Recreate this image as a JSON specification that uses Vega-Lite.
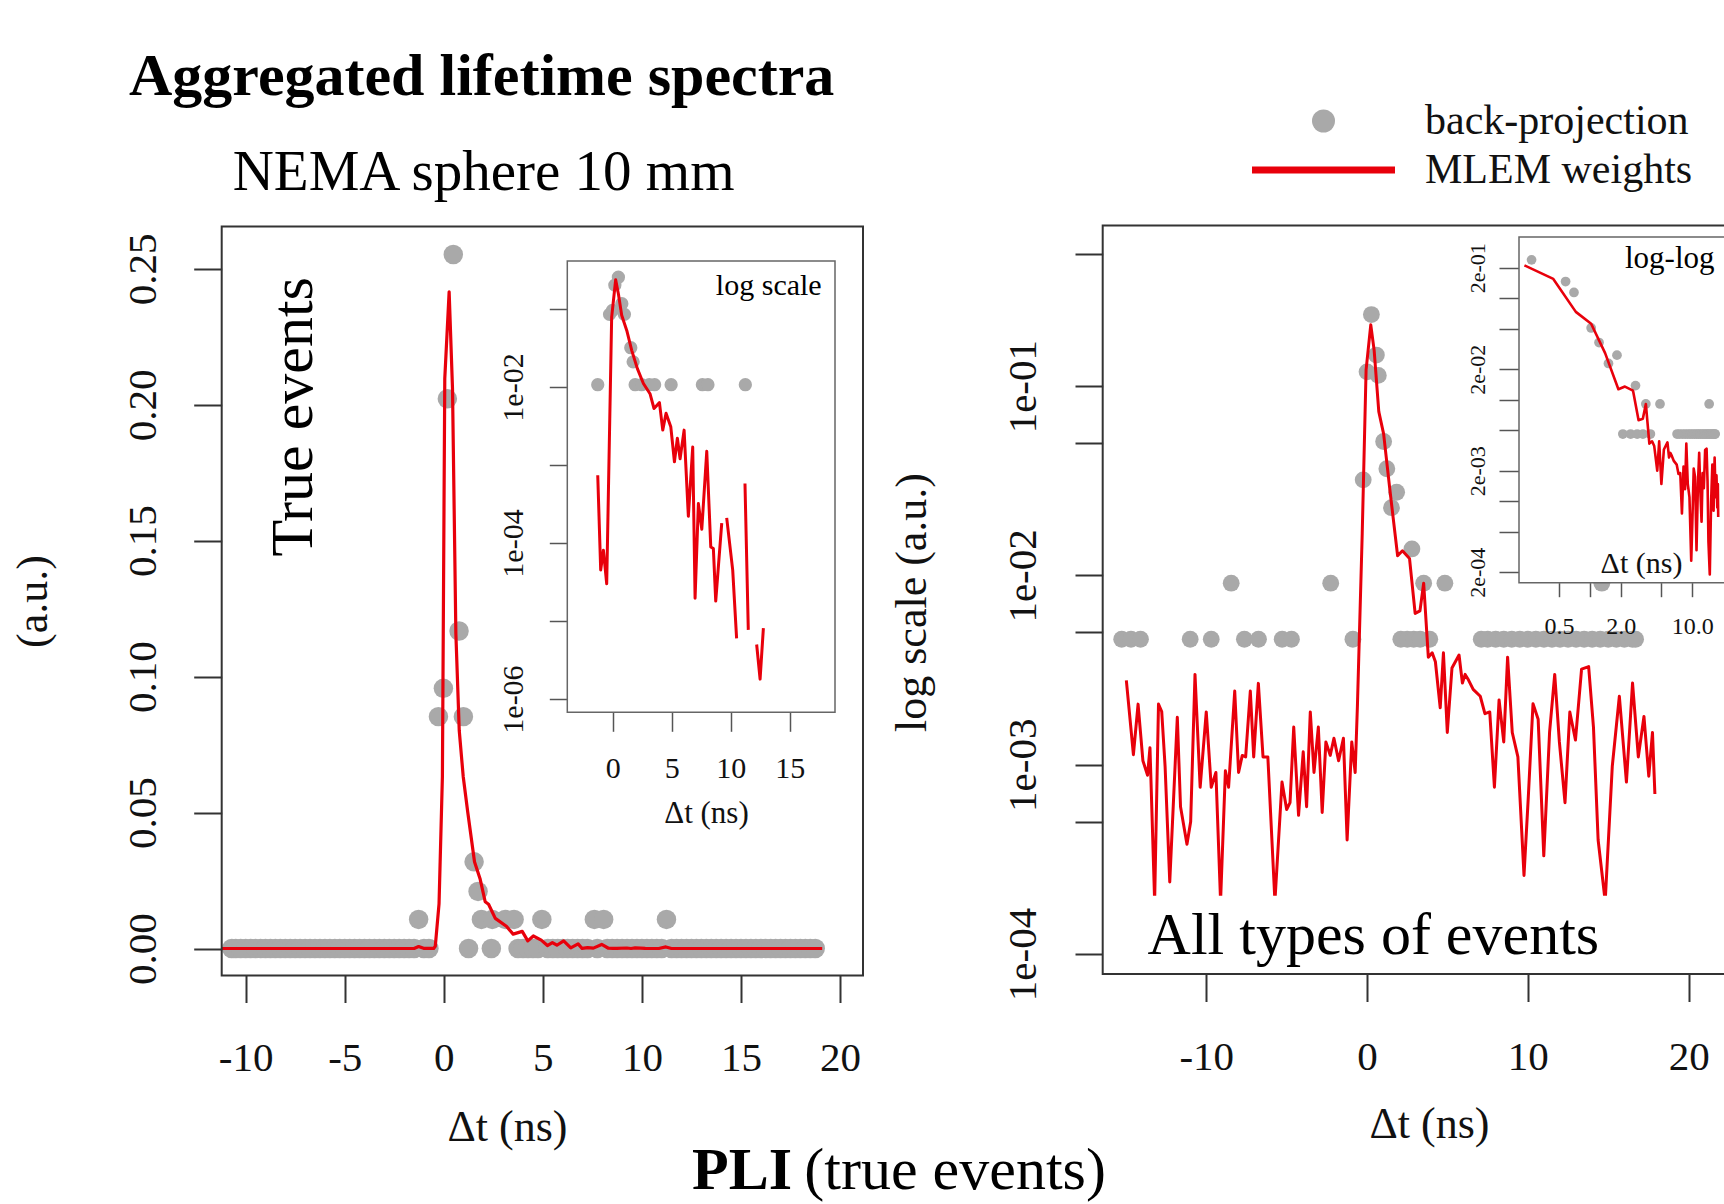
{
  "$schema": "https://vega.github.io/schema/vega-lite/v6.json",
  "width": 1724,
  "height": 1204,
  "autosize": "none",
  "padding": 0,
  "background": "white",
  "title": {"text": "Aggregated lifetime spectra", "anchor": "start", "frame": "group", "orient": "top", "offset": -155, "dx": 129, "baseline": "alphabetic", "font": "Liberation Serif", "fontSize": 60, "fontWeight": "bold", "color": "#000"},
  "config": {
    "view": {"stroke": null},
    "font": "Liberation Serif",
    "axis": {"domain": false, "grid": false, "labelFont": "Liberation Serif", "titleFont": "Liberation Serif", "labelColor": "#111", "titleColor": "#111", "titleFontWeight": "normal", "tickColor": "#333", "tickWidth": 2, "labelFlush": false, "labelOverlap": false, "labelBound": false}
  },
  "datasets": {
    "ptsL": [
      {"t": -1.27, "w": 0.0107}, {"t": -0.27, "w": 0.0853}, {"t": -0.02, "w": 0.0957}, {"t": 0.18, "w": 0.2022}, {"t": 0.48, "w": 0.2553}, {"t": 0.77, "w": 0.1168}, {"t": 0.99, "w": 0.0853}, {"t": 1.53, "w": 0.0319}, {"t": 1.73, "w": 0.021},
      {"t": 1.9, "w": 0.0107}, {"t": 2.45, "w": 0.0107}, {"t": 3.1, "w": 0.0107}, {"t": 3.55, "w": 0.0107}, {"t": 4.95, "w": 0.0107}, {"t": 7.6, "w": 0.0107}, {"t": 8.07, "w": 0.0107}, {"t": 11.24, "w": 0.0107},
      {"t": -10.7, "w": 0}, {"t": -10.5, "w": 0}, {"t": -10.25, "w": 0}, {"t": -10, "w": 0}, {"t": -9.75, "w": 0}, {"t": -9.5, "w": 0}, {"t": -9.25, "w": 0}, {"t": -9, "w": 0}, {"t": -8.75, "w": 0}, {"t": -8.5, "w": 0}, {"t": -8.25, "w": 0}, {"t": -8, "w": 0}, {"t": -7.75, "w": 0}, {"t": -7.5, "w": 0}, {"t": -7.25, "w": 0}, {"t": -7, "w": 0}, {"t": -6.75, "w": 0}, {"t": -6.5, "w": 0}, {"t": -6.25, "w": 0}, {"t": -6, "w": 0}, {"t": -5.75, "w": 0}, {"t": -5.5, "w": 0}, {"t": -5.25, "w": 0}, {"t": -5, "w": 0}, {"t": -4.75, "w": 0}, {"t": -4.5, "w": 0}, {"t": -4.25, "w": 0}, {"t": -4, "w": 0}, {"t": -3.75, "w": 0}, {"t": -3.5, "w": 0}, {"t": -3.25, "w": 0}, {"t": -3, "w": 0}, {"t": -2.75, "w": 0}, {"t": -2.5, "w": 0}, {"t": -2.25, "w": 0}, {"t": -2, "w": 0}, {"t": -1.75, "w": 0}, {"t": -1.5, "w": 0}, {"t": -1, "w": 0}, {"t": -0.75, "w": 0},
      {"t": 1.25, "w": 0}, {"t": 2.4, "w": 0},
      {"t": 3.75, "w": 0}, {"t": 4, "w": 0}, {"t": 4.25, "w": 0}, {"t": 4.5, "w": 0}, {"t": 4.75, "w": 0}, {"t": 5.25, "w": 0}, {"t": 5.5, "w": 0}, {"t": 5.75, "w": 0}, {"t": 6, "w": 0}, {"t": 6.25, "w": 0}, {"t": 6.5, "w": 0}, {"t": 6.75, "w": 0}, {"t": 7, "w": 0}, {"t": 7.25, "w": 0}, {"t": 7.75, "w": 0}, {"t": 8.25, "w": 0}, {"t": 8.5, "w": 0}, {"t": 8.75, "w": 0}, {"t": 9, "w": 0}, {"t": 9.25, "w": 0}, {"t": 9.5, "w": 0}, {"t": 9.75, "w": 0}, {"t": 10, "w": 0}, {"t": 10.25, "w": 0}, {"t": 10.5, "w": 0}, {"t": 10.75, "w": 0}, {"t": 11, "w": 0}, {"t": 11.5, "w": 0}, {"t": 11.75, "w": 0}, {"t": 12, "w": 0}, {"t": 12.25, "w": 0}, {"t": 12.5, "w": 0}, {"t": 12.75, "w": 0}, {"t": 13, "w": 0}, {"t": 13.25, "w": 0}, {"t": 13.5, "w": 0}, {"t": 13.75, "w": 0}, {"t": 14, "w": 0}, {"t": 14.25, "w": 0}, {"t": 14.5, "w": 0}, {"t": 14.75, "w": 0}, {"t": 15, "w": 0}, {"t": 15.25, "w": 0}, {"t": 15.5, "w": 0}, {"t": 15.75, "w": 0}, {"t": 16, "w": 0}, {"t": 16.25, "w": 0}, {"t": 16.5, "w": 0}, {"t": 16.75, "w": 0}, {"t": 17, "w": 0}, {"t": 17.25, "w": 0}, {"t": 17.5, "w": 0}, {"t": 17.75, "w": 0}, {"t": 18, "w": 0}, {"t": 18.25, "w": 0}, {"t": 18.5, "w": 0}, {"t": 18.75, "w": 0}
    ],
    "lineL": [
      {"t": -11.21, "w": 0}, {"t": -1.5, "w": 0}, {"t": -1.27, "w": 0.00074}, {"t": -1.02, "w": 0.00005}, {"t": -0.79, "w": 0.00008}, {"t": -0.51, "w": 0.00003}, {"t": -0.43, "w": 0.0008}, {"t": -0.24, "w": 0.0164}, {"t": -0.07, "w": 0.0633}, {"t": 0.05, "w": 0.2097}, {"t": 0.27, "w": 0.2416}, {"t": 0.44, "w": 0.206}, {"t": 0.61, "w": 0.1158}, {"t": 0.78, "w": 0.0802}, {"t": 0.98, "w": 0.0633}, {"t": 1.21, "w": 0.0501}, {"t": 1.55, "w": 0.0319}, {"t": 1.83, "w": 0.0257}, {"t": 2.09, "w": 0.0172}, {"t": 2.26, "w": 0.0163}, {"t": 2.6, "w": 0.0111}, {"t": 3.16, "w": 0.0082}, {"t": 3.5, "w": 0.0053}, {"t": 3.96, "w": 0.0063}, {"t": 4.24, "w": 0.0028}, {"t": 4.52, "w": 0.0046}, {"t": 4.92, "w": 0.0031}, {"t": 5.23, "w": 0.0011}, {"t": 5.48, "w": 0.0022}, {"t": 5.71, "w": 0.0012}, {"t": 6.05, "w": 0.0028}, {"t": 6.41, "w": 0.00022}, {"t": 6.78, "w": 0.0017}, {"t": 6.98, "w": 0.00002}, {"t": 7.26, "w": 0.00032}, {"t": 7.55, "w": 0.00015}, {"t": 7.97, "w": 0.0015}, {"t": 8.31, "w": 0.00009}, {"t": 8.53, "w": 0.000085}, {"t": 8.73, "w": 0.000018}, {"t": 9.24, "w": 0.00018}, {"t": 9.45, "w": 0}, {"t": 9.66, "w": 0.00021}, {"t": 10.17, "w": 0.000045}, {"t": 10.5, "w": 0.000006}, {"t": 10.85, "w": 0}, {"t": 11.21, "w": 0.00058}, {"t": 11.49, "w": 0.0000077}, {"t": 11.85, "w": 0}, {"t": 12.2, "w": 0.000005}, {"t": 12.49, "w": 0.0000018}, {"t": 12.77, "w": 0.0000081}, {"t": 13.1, "w": 0}, {"t": 19.1, "w": 0}
    ],
    "lineLlog": [
      {"t": -1.27, "w": 0.00074}, {"t": -1.02, "w": 0.000045}, {"t": -0.79, "w": 0.000081}, {"t": -0.51, "w": 0.00003}, {"t": -0.09, "w": 0.0787}, {"t": 0.25, "w": 0.237}, {"t": 0.48, "w": 0.157}, {"t": 0.76, "w": 0.083}, {"t": 1.19, "w": 0.053}, {"t": 1.61, "w": 0.0295}, {"t": 2.09, "w": 0.0172}, {"t": 2.6, "w": 0.0111}, {"t": 3.16, "w": 0.0082}, {"t": 3.5, "w": 0.0053}, {"t": 3.96, "w": 0.0063}, {"t": 4.24, "w": 0.0028}, {"t": 4.52, "w": 0.0046}, {"t": 4.92, "w": 0.0031}, {"t": 5.23, "w": 0.0011}, {"t": 5.48, "w": 0.0022}, {"t": 5.71, "w": 0.0012}, {"t": 6.05, "w": 0.0028}, {"t": 6.41, "w": 0.00022}, {"t": 6.78, "w": 0.0017}, {"t": 6.98, "w": 0.0000196}, {"t": 7.26, "w": 0.00032}, {"t": 7.55, "w": 0.00015}, {"t": 7.97, "w": 0.0015}, {"t": 8.31, "w": 0.000089}, {"t": 8.53, "w": 0.000085}, {"t": 8.73, "w": 0.000018}, {"t": 9.24, "w": 0.00018}, {"t": 9.45, "w": null}, {"t": 9.66, "w": 0.00021}, {"t": 10.17, "w": 0.000045}, {"t": 10.5, "w": 0.000006}, {"t": 10.85, "w": null}, {"t": 11.21, "w": 0.00058}, {"t": 11.49, "w": 0.0000077}, {"t": 11.85, "w": null}, {"t": 12.2, "w": 0.000005}, {"t": 12.49, "w": 0.0000018}, {"t": 12.77, "w": 0.0000081}
    ],
    "ptsR": [
      {"t": 0.27, "w": 0.239}, {"t": 0.0, "w": 0.119}, {"t": 0.58, "w": 0.146}, {"t": 0.7, "w": 0.114}, {"t": 1.03, "w": 0.051}, {"t": 1.23, "w": 0.0366}, {"t": -0.24, "w": 0.032}, {"t": 1.84, "w": 0.0275}, {"t": 1.52, "w": 0.0228}, {"t": 2.79, "w": 0.0138},
      {"t": -8.45, "w": 0.0091}, {"t": -2.26, "w": 0.0091}, {"t": 3.52, "w": 0.0091}, {"t": 4.84, "w": 0.0091}, {"t": 14.6, "w": 0.0091},
      {"t": -15.26, "w": 0.0046}, {"t": -14.68, "w": 0.0046}, {"t": -14.09, "w": 0.0046}, {"t": -11.0, "w": 0.0046}, {"t": -9.69, "w": 0.0046}, {"t": -7.63, "w": 0.0046}, {"t": -6.75, "w": 0.0046}, {"t": -5.28, "w": 0.0046}, {"t": -4.7, "w": 0.0046}, {"t": -0.88, "w": 0.0046}, {"t": 2.1, "w": 0.0046}, {"t": 2.5, "w": 0.0046}, {"t": 2.9, "w": 0.0046}, {"t": 3.3, "w": 0.0046}, {"t": 3.9, "w": 0.0046},
      {"t": 7.1, "w": 0.0046}, {"t": 7.5, "w": 0.0046}, {"t": 8, "w": 0.0046}, {"t": 8.5, "w": 0.0046}, {"t": 9, "w": 0.0046}, {"t": 9.5, "w": 0.0046}, {"t": 10, "w": 0.0046}, {"t": 10.5, "w": 0.0046}, {"t": 11, "w": 0.0046}, {"t": 11.5, "w": 0.0046}, {"t": 12, "w": 0.0046}, {"t": 12.5, "w": 0.0046}, {"t": 13, "w": 0.0046}, {"t": 13.5, "w": 0.0046}, {"t": 14, "w": 0.0046}, {"t": 14.5, "w": 0.0046}, {"t": 15, "w": 0.0046}, {"t": 15.5, "w": 0.0046}, {"t": 16, "w": 0.0046}, {"t": 16.5, "w": 0.0046}, {"t": 16.7, "w": 0.0046}
    ],
    "lineR": [
      {"t": -14.97, "w": 0.00279}, {"t": -14.53, "w": 0.00113}, {"t": -14.24, "w": 0.00209}, {"t": -13.94, "w": 0.00105}, {"t": -13.65, "w": 0.00088}, {"t": -13.5, "w": 0.00123}, {"t": -13.21, "w": 0.00019}, {"t": -12.97, "w": 0.00209}, {"t": -12.77, "w": 0.00191}, {"t": -12.56, "w": 0.00098}, {"t": -12.27, "w": 0.00024}, {"t": -11.8, "w": 0.00178}, {"t": -11.6, "w": 0.0006}, {"t": -11.2, "w": 0.00038}, {"t": -10.97, "w": 0.0005}, {"t": -10.7, "w": 0.003}, {"t": -10.38, "w": 0.00076}, {"t": -10.0, "w": 0.0019}, {"t": -9.69, "w": 0.00076}, {"t": -9.4, "w": 0.00091}, {"t": -9.11, "w": 0.00019}, {"t": -8.81, "w": 0.00093}, {"t": -8.61, "w": 0.00076}, {"t": -8.23, "w": 0.00245}, {"t": -7.99, "w": 0.00091}, {"t": -7.76, "w": 0.00112}, {"t": -7.55, "w": 0.0011}, {"t": -7.26, "w": 0.00245}, {"t": -7.05, "w": 0.0011}, {"t": -6.76, "w": 0.00269}, {"t": -6.47, "w": 0.0011}, {"t": -6.17, "w": 0.0011}, {"t": -5.73, "w": 0.00019}, {"t": -5.29, "w": 0.00081}, {"t": -5.0, "w": 0.00058}, {"t": -4.79, "w": 0.00063}, {"t": -4.56, "w": 0.00158}, {"t": -4.26, "w": 0.00054}, {"t": -3.97, "w": 0.00117}, {"t": -3.76, "w": 0.0006}, {"t": -3.53, "w": 0.0019}, {"t": -3.3, "w": 0.00091}, {"t": -3.03, "w": 0.00158}, {"t": -2.79, "w": 0.00056}, {"t": -2.56, "w": 0.00132}, {"t": -2.29, "w": 0.00112}, {"t": -2.06, "w": 0.00138}, {"t": -1.77, "w": 0.00105}, {"t": -1.47, "w": 0.00138}, {"t": -1.24, "w": 0.0004}, {"t": -0.95, "w": 0.00132}, {"t": -0.74, "w": 0.00091}, {"t": -0.6, "w": 0.00204}, {"t": -0.3, "w": 0.0167}, {"t": -0.06, "w": 0.122}, {"t": 0.23, "w": 0.211}, {"t": 0.44, "w": 0.155}, {"t": 0.73, "w": 0.0734}, {"t": 1.03, "w": 0.056}, {"t": 1.41, "w": 0.0288}, {"t": 1.9, "w": 0.0127}, {"t": 2.2, "w": 0.0135}, {"t": 2.64, "w": 0.0123}, {"t": 2.99, "w": 0.0063}, {"t": 3.29, "w": 0.0065}, {"t": 3.52, "w": 0.0091}, {"t": 3.81, "w": 0.0037}, {"t": 4.05, "w": 0.0039}, {"t": 4.25, "w": 0.0035}, {"t": 4.55, "w": 0.002}, {"t": 4.75, "w": 0.0039}, {"t": 4.99, "w": 0.00148}, {"t": 5.28, "w": 0.00324}, {"t": 5.72, "w": 0.0038}, {"t": 5.93, "w": 0.0027}, {"t": 6.1, "w": 0.003}, {"t": 6.31, "w": 0.0028}, {"t": 6.6, "w": 0.0025}, {"t": 7.04, "w": 0.0023}, {"t": 7.33, "w": 0.00186}, {"t": 7.63, "w": 0.0019}, {"t": 7.92, "w": 0.00076}, {"t": 8.21, "w": 0.0022}, {"t": 8.5, "w": 0.00132}, {"t": 8.74, "w": 0.0037}, {"t": 9.03, "w": 0.00148}, {"t": 9.38, "w": 0.0011}, {"t": 9.76, "w": 0.00026}, {"t": 10.03, "w": 0.00068}, {"t": 10.32, "w": 0.0021}, {"t": 10.64, "w": 0.00174}, {"t": 10.99, "w": 0.00033}, {"t": 11.35, "w": 0.00148}, {"t": 11.67, "w": 0.003}, {"t": 11.96, "w": 0.00132}, {"t": 12.31, "w": 0.00063}, {"t": 12.61, "w": 0.0019}, {"t": 12.96, "w": 0.00135}, {"t": 13.34, "w": 0.0032}, {"t": 13.78, "w": 0.0033}, {"t": 14.08, "w": 0.00158}, {"t": 14.37, "w": 0.0004}, {"t": 14.81, "w": 0.00019}, {"t": 15.25, "w": 0.00098}, {"t": 15.69, "w": 0.0023}, {"t": 16.13, "w": 0.00081}, {"t": 16.51, "w": 0.0027}, {"t": 16.87, "w": 0.0011}, {"t": 17.22, "w": 0.0018}, {"t": 17.52, "w": 0.00087}, {"t": 17.75, "w": 0.00148}, {"t": 17.9, "w": 0.0007}
    ]
  },
  "resolve": {"scale": {"x": "independent", "y": "independent"}, "axis": {"x": "independent", "y": "independent"}},
  "layer": [
    {
      "layer": [
        {"data": {"name": "ptsR"}, "mark": {"type": "point", "filled": true, "opacity": 1, "size": 283, "strokeWidth": 0},
          "encoding": {
            "x": {"field": "t", "type": "quantitative", "scale": {"type": "linear", "domain": [-16.44, 23.0], "range": [1102.7, 1736.9], "nice": false, "zero": false},
              "axis": {"orient": "bottom", "offset": -229.5, "values": [-10, 0, 10, 20], "labelExpr": "'' + datum.value", "tickSize": 27, "labelFontSize": 41, "labelPadding": 56, "labelBaseline": "middle", "title": "Δt (ns)", "titleFontSize": 44, "titleX": 1429, "titleY": 149.5, "titleBaseline": "middle"}},
            "y": {"field": "w", "type": "quantitative", "scale": {"type": "log", "domain": [0.0000784, 0.706], "range": [974, 225.5], "nice": false},
              "axis": {"orient": "left", "offset": -1102.7, "values": [0.0001, 0.0005, 0.001, 0.005, 0.01, 0.05, 0.1, 0.5], "labelExpr": "datum.value == 0.1 ? '1e-01' : datum.value == 0.01 ? '1e-02' : datum.value == 0.001 ? '1e-03' : datum.value == 0.0001 ? '1e-04' : ''", "tickSize": 27.7, "labelFontSize": 41, "labelAngle": 270, "labelAlign": "center", "labelBaseline": "middle", "labelPadding": 52, "title": "log scale (a.u.)", "titleFontSize": 44, "titleX": -189.7, "titleY": 602, "titleAngle": 270, "titleBaseline": "middle"}},
            "color": {"datum": "back-projection", "scale": {"domain": ["back-projection", "MLEM weights"], "range": ["#a9a9a9", "#e8000b"]},
              "legend": {"title": null, "orient": "none", "legendX": 1302.5, "legendY": 100, "padding": 0, "symbolType": "circle", "symbolSize": 529, "symbolStrokeWidth": 0, "symbolOpacity": 1, "labelFont": "Liberation Serif", "labelFontSize": 42, "labelColor": "#111", "labelOffset": 80.5, "symbolOffset": 0, "rowPadding": 7, "labelLimit": 500,
                "encode": {"symbols": {"update": {"shape": {"signal": "datum.value === 'MLEM weights' ? 'M-6.217,-0.304H6.217V0.304H-6.217Z' : 'circle'"}}}}}}}},
        {"data": {"name": "lineR"}, "mark": {"type": "line", "color": "#e8000b", "strokeWidth": 3, "strokeJoin": "round", "invalid": "break-paths-filter-domains"},
          "encoding": {
            "x": {"field": "t", "type": "quantitative", "scale": {"type": "linear", "domain": [-16.44, 23.0], "range": [1102.7, 1736.9], "nice": false, "zero": false},
              "axis": {"orient": "bottom", "offset": -229.5, "values": [-10, 0, 10, 20], "labelExpr": "'' + datum.value", "tickSize": 27, "labelFontSize": 41, "labelPadding": 56, "labelBaseline": "middle", "title": "Δt (ns)", "titleFontSize": 44, "titleX": 1429, "titleY": 149.5, "titleBaseline": "middle"}},
            "y": {"field": "w", "type": "quantitative", "scale": {"type": "log", "domain": [0.0000784, 0.706], "range": [974, 225.5], "nice": false},
              "axis": {"orient": "left", "offset": -1102.7, "values": [0.0001, 0.0005, 0.001, 0.005, 0.01, 0.05, 0.1, 0.5], "labelExpr": "datum.value == 0.1 ? '1e-01' : datum.value == 0.01 ? '1e-02' : datum.value == 0.001 ? '1e-03' : datum.value == 0.0001 ? '1e-04' : ''", "tickSize": 27.7, "labelFontSize": 41, "labelAngle": 270, "labelAlign": "center", "labelBaseline": "middle", "labelPadding": 52, "title": "log scale (a.u.)", "titleFontSize": 44, "titleX": -189.7, "titleY": 602, "titleAngle": 270, "titleBaseline": "middle"}}}},
        {"data": {"values": [{}]}, "mark": {"type": "rect", "color": "white", "opacity": 1},
          "encoding": {
            "x": {"datum": -16.44, "scale": {"type": "linear", "domain": [-16.44, 23.0], "range": [1102.7, 1736.9], "nice": false, "zero": false},
              "axis": {"orient": "bottom", "offset": -229.5, "values": [-10, 0, 10, 20], "labelExpr": "'' + datum.value", "tickSize": 27, "labelFontSize": 41, "labelPadding": 56, "labelBaseline": "middle", "title": "Δt (ns)", "titleFontSize": 44, "titleX": 1429, "titleY": 149.5, "titleBaseline": "middle"}},
            "x2": {"datum": 17.96},
            "y": {"datum": 0.0000784, "scale": {"type": "log", "domain": [0.0000784, 0.706], "range": [974, 225.5], "nice": false},
              "axis": {"orient": "left", "offset": -1102.7, "values": [0.0001, 0.0005, 0.001, 0.005, 0.01, 0.05, 0.1, 0.5], "labelExpr": "datum.value == 0.1 ? '1e-01' : datum.value == 0.01 ? '1e-02' : datum.value == 0.001 ? '1e-03' : datum.value == 0.0001 ? '1e-04' : ''", "tickSize": 27.7, "labelFontSize": 41, "labelAngle": 270, "labelAlign": "center", "labelBaseline": "middle", "labelPadding": 52, "title": "log scale (a.u.)", "titleFontSize": 44, "titleX": -189.7, "titleY": 602, "titleAngle": 270, "titleBaseline": "middle"}},
            "y2": {"datum": 0.0002034}}},
        {"data": {"values": [{}]}, "mark": {"type": "text", "text": "All types of events", "font": "Liberation Serif", "fontSize": 60, "align": "left", "baseline": "alphabetic", "color": "#000"},
          "encoding": {
            "x": {"datum": -13.65, "scale": {"type": "linear", "domain": [-16.44, 23.0], "range": [1102.7, 1736.9], "nice": false, "zero": false},
              "axis": {"orient": "bottom", "offset": -229.5, "values": [-10, 0, 10, 20], "labelExpr": "'' + datum.value", "tickSize": 27, "labelFontSize": 41, "labelPadding": 56, "labelBaseline": "middle", "title": "Δt (ns)", "titleFontSize": 44, "titleX": 1429, "titleY": 149.5, "titleBaseline": "middle"}},
            "y": {"datum": 0.0001, "scale": {"type": "log", "domain": [0.0000784, 0.706], "range": [974, 225.5], "nice": false},
              "axis": {"orient": "left", "offset": -1102.7, "values": [0.0001, 0.0005, 0.001, 0.005, 0.01, 0.05, 0.1, 0.5], "labelExpr": "datum.value == 0.1 ? '1e-01' : datum.value == 0.01 ? '1e-02' : datum.value == 0.001 ? '1e-03' : datum.value == 0.0001 ? '1e-04' : ''", "tickSize": 27.7, "labelFontSize": 41, "labelAngle": 270, "labelAlign": "center", "labelBaseline": "middle", "labelPadding": 52, "title": "log scale (a.u.)", "titleFontSize": 44, "titleX": -189.7, "titleY": 602, "titleAngle": 270, "titleBaseline": "middle"}}}},
        {"data": {"values": [{}]}, "mark": {"type": "rect", "fill": "transparent", "stroke": "#333", "strokeWidth": 2},
          "encoding": {
            "x": {"datum": -16.44, "scale": {"type": "linear", "domain": [-16.44, 23.0], "range": [1102.7, 1736.9], "nice": false, "zero": false},
              "axis": {"orient": "bottom", "offset": -229.5, "values": [-10, 0, 10, 20], "labelExpr": "'' + datum.value", "tickSize": 27, "labelFontSize": 41, "labelPadding": 56, "labelBaseline": "middle", "title": "Δt (ns)", "titleFontSize": 44, "titleX": 1429, "titleY": 149.5, "titleBaseline": "middle"}},
            "x2": {"datum": 23.0},
            "y": {"datum": 0.0000784, "scale": {"type": "log", "domain": [0.0000784, 0.706], "range": [974, 225.5], "nice": false},
              "axis": {"orient": "left", "offset": -1102.7, "values": [0.0001, 0.0005, 0.001, 0.005, 0.01, 0.05, 0.1, 0.5], "labelExpr": "datum.value == 0.1 ? '1e-01' : datum.value == 0.01 ? '1e-02' : datum.value == 0.001 ? '1e-03' : datum.value == 0.0001 ? '1e-04' : ''", "tickSize": 27.7, "labelFontSize": 41, "labelAngle": 270, "labelAlign": "center", "labelBaseline": "middle", "labelPadding": 52, "title": "log scale (a.u.)", "titleFontSize": 44, "titleX": -189.7, "titleY": 602, "titleAngle": 270, "titleBaseline": "middle"}},
            "y2": {"datum": 0.706}}}
      ]
    },
    {
      "layer": [
        {"data": {"values": [{}]}, "mark": {"type": "rect", "fill": "white", "stroke": "#666", "strokeWidth": 1.5},
          "encoding": {
            "x": {"datum": 0.2036, "scale": {"type": "log", "domain": [0.2036, 29.2], "range": [1519, 1740], "nice": false},
              "axis": {"orient": "bottom", "offset": -621.3, "values": [0.5, 1, 2, 5, 10], "labelExpr": "datum.value == 0.5 ? '0.5' : datum.value == 2 ? '2.0' : datum.value == 10 ? '10.0' : ''", "tickSize": 14, "tickColor": "#555", "tickWidth": 1.5, "labelFontSize": 24, "labelPadding": 30, "labelBaseline": "middle", "title": "Δt (ns)", "titleFontSize": 30, "titleX": 1641, "titleY": -19, "titleBaseline": "middle", "zindex": 1}},
            "x2": {"datum": 29.2},
            "y": {"datum": 0.000158, "scale": {"type": "log", "domain": [0.000158, 0.401], "range": [582.7, 237], "nice": false},
              "axis": {"orient": "left", "offset": -1519, "values": [0.2, 0.1, 0.05, 0.02, 0.01, 0.005, 0.002, 0.001, 0.0005, 0.0002], "labelExpr": "datum.value == 0.2 ? '2e-01' : datum.value == 0.02 ? '2e-02' : datum.value == 0.002 ? '2e-03' : datum.value == 0.0002 ? '2e-04' : ''", "tickSize": 20, "tickColor": "#555", "tickWidth": 1.5, "labelFontSize": 22, "labelAngle": 270, "labelAlign": "center", "labelBaseline": "middle", "labelPadding": 22, "title": null}},
            "y2": {"datum": 0.401}}},
        {"data": {"name": "ptsR"}, "transform": [{"filter": "datum.t > 0.2"}], "mark": {"type": "point", "filled": true, "opacity": 1, "size": 95, "strokeWidth": 0, "color": "#a9a9a9"},
          "encoding": {
            "x": {"field": "t", "type": "quantitative", "scale": {"type": "log", "domain": [0.2036, 29.2], "range": [1519, 1740], "nice": false},
              "axis": {"orient": "bottom", "offset": -621.3, "values": [0.5, 1, 2, 5, 10], "labelExpr": "datum.value == 0.5 ? '0.5' : datum.value == 2 ? '2.0' : datum.value == 10 ? '10.0' : ''", "tickSize": 14, "tickColor": "#555", "tickWidth": 1.5, "labelFontSize": 24, "labelPadding": 30, "labelBaseline": "middle", "title": "Δt (ns)", "titleFontSize": 30, "titleX": 1641, "titleY": -19, "titleBaseline": "middle", "zindex": 1}},
            "y": {"field": "w", "type": "quantitative", "scale": {"type": "log", "domain": [0.000158, 0.401], "range": [582.7, 237], "nice": false},
              "axis": {"orient": "left", "offset": -1519, "values": [0.2, 0.1, 0.05, 0.02, 0.01, 0.005, 0.002, 0.001, 0.0005, 0.0002], "labelExpr": "datum.value == 0.2 ? '2e-01' : datum.value == 0.02 ? '2e-02' : datum.value == 0.002 ? '2e-03' : datum.value == 0.0002 ? '2e-04' : ''", "tickSize": 20, "tickColor": "#555", "tickWidth": 1.5, "labelFontSize": 22, "labelAngle": 270, "labelAlign": "center", "labelBaseline": "middle", "labelPadding": 22, "title": null}}}},
        {"data": {"name": "lineR"}, "transform": [{"filter": "datum.t > 0.2"}], "mark": {"type": "line", "color": "#e8000b", "strokeWidth": 2.6, "strokeJoin": "round", "invalid": "break-paths-filter-domains"},
          "encoding": {
            "x": {"field": "t", "type": "quantitative", "scale": {"type": "log", "domain": [0.2036, 29.2], "range": [1519, 1740], "nice": false},
              "axis": {"orient": "bottom", "offset": -621.3, "values": [0.5, 1, 2, 5, 10], "labelExpr": "datum.value == 0.5 ? '0.5' : datum.value == 2 ? '2.0' : datum.value == 10 ? '10.0' : ''", "tickSize": 14, "tickColor": "#555", "tickWidth": 1.5, "labelFontSize": 24, "labelPadding": 30, "labelBaseline": "middle", "title": "Δt (ns)", "titleFontSize": 30, "titleX": 1641, "titleY": -19, "titleBaseline": "middle", "zindex": 1}},
            "y": {"field": "w", "type": "quantitative", "scale": {"type": "log", "domain": [0.000158, 0.401], "range": [582.7, 237], "nice": false},
              "axis": {"orient": "left", "offset": -1519, "values": [0.2, 0.1, 0.05, 0.02, 0.01, 0.005, 0.002, 0.001, 0.0005, 0.0002], "labelExpr": "datum.value == 0.2 ? '2e-01' : datum.value == 0.02 ? '2e-02' : datum.value == 0.002 ? '2e-03' : datum.value == 0.0002 ? '2e-04' : ''", "tickSize": 20, "tickColor": "#555", "tickWidth": 1.5, "labelFontSize": 22, "labelAngle": 270, "labelAlign": "center", "labelBaseline": "middle", "labelPadding": 22, "title": null}}}},
        {"data": {"values": [{}]}, "mark": {"type": "text", "text": "log-log", "font": "Liberation Serif", "fontSize": 31, "align": "left", "baseline": "alphabetic", "color": "#000"},
          "encoding": {
            "x": {"datum": 2.203, "scale": {"type": "log", "domain": [0.2036, 29.2], "range": [1519, 1740], "nice": false},
              "axis": {"orient": "bottom", "offset": -621.3, "values": [0.5, 1, 2, 5, 10], "labelExpr": "datum.value == 0.5 ? '0.5' : datum.value == 2 ? '2.0' : datum.value == 10 ? '10.0' : ''", "tickSize": 14, "tickColor": "#555", "tickWidth": 1.5, "labelFontSize": 24, "labelPadding": 30, "labelBaseline": "middle", "title": "Δt (ns)", "titleFontSize": 30, "titleX": 1641, "titleY": -19, "titleBaseline": "middle", "zindex": 1}},
            "y": {"datum": 0.1986, "scale": {"type": "log", "domain": [0.000158, 0.401], "range": [582.7, 237], "nice": false},
              "axis": {"orient": "left", "offset": -1519, "values": [0.2, 0.1, 0.05, 0.02, 0.01, 0.005, 0.002, 0.001, 0.0005, 0.0002], "labelExpr": "datum.value == 0.2 ? '2e-01' : datum.value == 0.02 ? '2e-02' : datum.value == 0.002 ? '2e-03' : datum.value == 0.0002 ? '2e-04' : ''", "tickSize": 20, "tickColor": "#555", "tickWidth": 1.5, "labelFontSize": 22, "labelAngle": 270, "labelAlign": "center", "labelBaseline": "middle", "labelPadding": 22, "title": null}}}}
      ]
    },
    {
      "layer": [
        {"data": {"name": "ptsL"}, "mark": {"type": "point", "filled": true, "opacity": 1, "size": 380, "strokeWidth": 0, "color": "#a9a9a9"},
          "encoding": {
            "x": {"field": "t", "type": "quantitative", "scale": {"type": "linear", "domain": [-11.21, 21.16], "range": [221.7, 863], "nice": false, "zero": false},
              "axis": {"orient": "bottom", "offset": -228.5, "values": [-10, -5, 0, 5, 10, 15, 20], "labelExpr": "'' + datum.value", "tickSize": 27, "labelFontSize": 41, "labelPadding": 55.5, "labelBaseline": "middle", "title": "Δt (ns)", "titleFontSize": 44, "titleX": 507, "titleY": 151.5, "titleBaseline": "middle"}},
            "y": {"field": "w", "type": "quantitative", "scale": {"type": "linear", "domain": [-0.00993, 0.2656], "range": [975.5, 226.5], "nice": false, "zero": false},
              "axis": {"orient": "left", "offset": -221.7, "values": [0, 0.05, 0.1, 0.15, 0.2, 0.25], "labelExpr": "format(datum.value, '.2f')", "tickSize": 28, "labelFontSize": 41, "labelAngle": 270, "labelAlign": "center", "labelBaseline": "middle", "labelPadding": 50.7, "title": "(a.u.)", "titleFontSize": 44, "titleX": -188.7, "titleY": 601, "titleAngle": 270, "titleBaseline": "middle"}}}},
        {"data": {"name": "lineL"}, "mark": {"type": "line", "color": "#e8000b", "strokeWidth": 3.2, "strokeJoin": "round"},
          "encoding": {
            "x": {"field": "t", "type": "quantitative", "scale": {"type": "linear", "domain": [-11.21, 21.16], "range": [221.7, 863], "nice": false, "zero": false},
              "axis": {"orient": "bottom", "offset": -228.5, "values": [-10, -5, 0, 5, 10, 15, 20], "labelExpr": "'' + datum.value", "tickSize": 27, "labelFontSize": 41, "labelPadding": 55.5, "labelBaseline": "middle", "title": "Δt (ns)", "titleFontSize": 44, "titleX": 507, "titleY": 151.5, "titleBaseline": "middle"}},
            "y": {"field": "w", "type": "quantitative", "scale": {"type": "linear", "domain": [-0.00993, 0.2656], "range": [975.5, 226.5], "nice": false, "zero": false},
              "axis": {"orient": "left", "offset": -221.7, "values": [0, 0.05, 0.1, 0.15, 0.2, 0.25], "labelExpr": "format(datum.value, '.2f')", "tickSize": 28, "labelFontSize": 41, "labelAngle": 270, "labelAlign": "center", "labelBaseline": "middle", "labelPadding": 50.7, "title": "(a.u.)", "titleFontSize": 44, "titleX": -188.7, "titleY": 601, "titleAngle": 270, "titleBaseline": "middle"}}}},
        {"data": {"values": [{}]}, "mark": {"type": "text", "text": "True events", "font": "Liberation Serif", "fontSize": 60, "angle": 270, "align": "center", "baseline": "alphabetic", "color": "#000"},
          "encoding": {
            "x": {"datum": -6.67, "scale": {"type": "linear", "domain": [-11.21, 21.16], "range": [221.7, 863], "nice": false, "zero": false},
              "axis": {"orient": "bottom", "offset": -228.5, "values": [-10, -5, 0, 5, 10, 15, 20], "labelExpr": "'' + datum.value", "tickSize": 27, "labelFontSize": 41, "labelPadding": 55.5, "labelBaseline": "middle", "title": "Δt (ns)", "titleFontSize": 44, "titleX": 507, "titleY": 151.5, "titleBaseline": "middle"}},
            "y": {"datum": 0.1956, "scale": {"type": "linear", "domain": [-0.00993, 0.2656], "range": [975.5, 226.5], "nice": false, "zero": false},
              "axis": {"orient": "left", "offset": -221.7, "values": [0, 0.05, 0.1, 0.15, 0.2, 0.25], "labelExpr": "format(datum.value, '.2f')", "tickSize": 28, "labelFontSize": 41, "labelAngle": 270, "labelAlign": "center", "labelBaseline": "middle", "labelPadding": 50.7, "title": "(a.u.)", "titleFontSize": 44, "titleX": -188.7, "titleY": 601, "titleAngle": 270, "titleBaseline": "middle"}}}},
        {"data": {"values": [{}]}, "mark": {"type": "text", "text": "NEMA sphere 10 mm", "font": "Liberation Serif", "fontSize": 57, "align": "center", "baseline": "alphabetic", "color": "#000"},
          "encoding": {
            "x": {"datum": 2.01, "scale": {"type": "linear", "domain": [-11.21, 21.16], "range": [221.7, 863], "nice": false, "zero": false},
              "axis": {"orient": "bottom", "offset": -228.5, "values": [-10, -5, 0, 5, 10, 15, 20], "labelExpr": "'' + datum.value", "tickSize": 27, "labelFontSize": 41, "labelPadding": 55.5, "labelBaseline": "middle", "title": "Δt (ns)", "titleFontSize": 44, "titleX": 507, "titleY": 151.5, "titleBaseline": "middle"}},
            "y": {"datum": 0.2791, "scale": {"type": "linear", "domain": [-0.00993, 0.2656], "range": [975.5, 226.5], "nice": false, "zero": false},
              "axis": {"orient": "left", "offset": -221.7, "values": [0, 0.05, 0.1, 0.15, 0.2, 0.25], "labelExpr": "format(datum.value, '.2f')", "tickSize": 28, "labelFontSize": 41, "labelAngle": 270, "labelAlign": "center", "labelBaseline": "middle", "labelPadding": 50.7, "title": "(a.u.)", "titleFontSize": 44, "titleX": -188.7, "titleY": 601, "titleAngle": 270, "titleBaseline": "middle"}}}},
        {"data": {"values": [{}]}, "mark": {"type": "text", "text": "PLI", "font": "Liberation Serif", "fontSize": 60, "fontWeight": "bold", "align": "left", "baseline": "alphabetic", "color": "#000"},
          "encoding": {
            "x": {"datum": 12.53, "scale": {"type": "linear", "domain": [-11.21, 21.16], "range": [221.7, 863], "nice": false, "zero": false},
              "axis": {"orient": "bottom", "offset": -228.5, "values": [-10, -5, 0, 5, 10, 15, 20], "labelExpr": "'' + datum.value", "tickSize": 27, "labelFontSize": 41, "labelPadding": 55.5, "labelBaseline": "middle", "title": "Δt (ns)", "titleFontSize": 44, "titleX": 507, "titleY": 151.5, "titleBaseline": "middle"}},
            "y": {"datum": -0.0885, "scale": {"type": "linear", "domain": [-0.00993, 0.2656], "range": [975.5, 226.5], "nice": false, "zero": false},
              "axis": {"orient": "left", "offset": -221.7, "values": [0, 0.05, 0.1, 0.15, 0.2, 0.25], "labelExpr": "format(datum.value, '.2f')", "tickSize": 28, "labelFontSize": 41, "labelAngle": 270, "labelAlign": "center", "labelBaseline": "middle", "labelPadding": 50.7, "title": "(a.u.)", "titleFontSize": 44, "titleX": -188.7, "titleY": 601, "titleAngle": 270, "titleBaseline": "middle"}}}},
        {"data": {"values": [{}]}, "mark": {"type": "text", "text": "(true events)", "font": "Liberation Serif", "fontSize": 60, "align": "left", "baseline": "alphabetic", "color": "#000"},
          "encoding": {
            "x": {"datum": 18.2, "scale": {"type": "linear", "domain": [-11.21, 21.16], "range": [221.7, 863], "nice": false, "zero": false},
              "axis": {"orient": "bottom", "offset": -228.5, "values": [-10, -5, 0, 5, 10, 15, 20], "labelExpr": "'' + datum.value", "tickSize": 27, "labelFontSize": 41, "labelPadding": 55.5, "labelBaseline": "middle", "title": "Δt (ns)", "titleFontSize": 44, "titleX": 507, "titleY": 151.5, "titleBaseline": "middle"}},
            "y": {"datum": -0.0885, "scale": {"type": "linear", "domain": [-0.00993, 0.2656], "range": [975.5, 226.5], "nice": false, "zero": false},
              "axis": {"orient": "left", "offset": -221.7, "values": [0, 0.05, 0.1, 0.15, 0.2, 0.25], "labelExpr": "format(datum.value, '.2f')", "tickSize": 28, "labelFontSize": 41, "labelAngle": 270, "labelAlign": "center", "labelBaseline": "middle", "labelPadding": 50.7, "title": "(a.u.)", "titleFontSize": 44, "titleX": -188.7, "titleY": 601, "titleAngle": 270, "titleBaseline": "middle"}}}},
        {"data": {"values": [{}]}, "mark": {"type": "rect", "fill": "transparent", "stroke": "#333", "strokeWidth": 2},
          "encoding": {
            "x": {"datum": -11.21, "scale": {"type": "linear", "domain": [-11.21, 21.16], "range": [221.7, 863], "nice": false, "zero": false},
              "axis": {"orient": "bottom", "offset": -228.5, "values": [-10, -5, 0, 5, 10, 15, 20], "labelExpr": "'' + datum.value", "tickSize": 27, "labelFontSize": 41, "labelPadding": 55.5, "labelBaseline": "middle", "title": "Δt (ns)", "titleFontSize": 44, "titleX": 507, "titleY": 151.5, "titleBaseline": "middle"}},
            "x2": {"datum": 21.16},
            "y": {"datum": -0.00993, "scale": {"type": "linear", "domain": [-0.00993, 0.2656], "range": [975.5, 226.5], "nice": false, "zero": false},
              "axis": {"orient": "left", "offset": -221.7, "values": [0, 0.05, 0.1, 0.15, 0.2, 0.25], "labelExpr": "format(datum.value, '.2f')", "tickSize": 28, "labelFontSize": 41, "labelAngle": 270, "labelAlign": "center", "labelBaseline": "middle", "labelPadding": 50.7, "title": "(a.u.)", "titleFontSize": 44, "titleX": -188.7, "titleY": 601, "titleAngle": 270, "titleBaseline": "middle"}},
            "y2": {"datum": 0.2656}}}
      ]
    },
    {
      "layer": [
        {"data": {"values": [{}]}, "mark": {"type": "rect", "fill": "white", "stroke": "#666", "strokeWidth": 1.5},
          "encoding": {
            "x": {"datum": -3.85, "scale": {"type": "linear", "domain": [-3.85, 18.84], "range": [567.3, 835], "nice": false, "zero": false},
              "axis": {"orient": "bottom", "offset": -491.7, "values": [0, 5, 10, 15], "labelExpr": "'' + datum.value", "tickSize": 19, "tickColor": "#555", "tickWidth": 1.5, "labelFontSize": 30, "labelPadding": 37.3, "labelBaseline": "middle", "title": "Δt (ns)", "titleFontSize": 31, "titleX": 706, "titleY": 101.3, "titleBaseline": "middle"}},
            "x2": {"datum": 18.84},
            "y": {"datum": 0.000000676, "scale": {"type": "log", "domain": [0.000000676, 0.412], "range": [712.3, 261], "nice": false},
              "axis": {"orient": "left", "offset": -567.3, "values": [0.1, 0.01, 0.001, 0.0001, 0.00001, 0.000001], "labelExpr": "datum.value == 0.01 ? '1e-02' : datum.value == 0.0001 ? '1e-04' : datum.value == 0.000001 ? '1e-06' : ''", "tickSize": 18, "tickColor": "#555", "tickWidth": 1.5, "labelFontSize": 30, "labelAngle": 270, "labelAlign": "center", "labelBaseline": "middle", "labelPadding": 35.8, "title": null}},
            "y2": {"datum": 0.412}}},
        {"data": {"name": "ptsL"}, "transform": [{"filter": "datum.w > 0"}], "mark": {"type": "point", "filled": true, "opacity": 1, "size": 177, "strokeWidth": 0, "color": "#a9a9a9"},
          "encoding": {
            "x": {"field": "t", "type": "quantitative", "scale": {"type": "linear", "domain": [-3.85, 18.84], "range": [567.3, 835], "nice": false, "zero": false},
              "axis": {"orient": "bottom", "offset": -491.7, "values": [0, 5, 10, 15], "labelExpr": "'' + datum.value", "tickSize": 19, "tickColor": "#555", "tickWidth": 1.5, "labelFontSize": 30, "labelPadding": 37.3, "labelBaseline": "middle", "title": "Δt (ns)", "titleFontSize": 31, "titleX": 706, "titleY": 101.3, "titleBaseline": "middle"}},
            "y": {"field": "w", "type": "quantitative", "scale": {"type": "log", "domain": [0.000000676, 0.412], "range": [712.3, 261], "nice": false},
              "axis": {"orient": "left", "offset": -567.3, "values": [0.1, 0.01, 0.001, 0.0001, 0.00001, 0.000001], "labelExpr": "datum.value == 0.01 ? '1e-02' : datum.value == 0.0001 ? '1e-04' : datum.value == 0.000001 ? '1e-06' : ''", "tickSize": 18, "tickColor": "#555", "tickWidth": 1.5, "labelFontSize": 30, "labelAngle": 270, "labelAlign": "center", "labelBaseline": "middle", "labelPadding": 35.8, "title": null}}}},
        {"data": {"name": "lineLlog"}, "mark": {"type": "line", "color": "#e8000b", "strokeWidth": 3, "strokeJoin": "round", "invalid": "break-paths-filter-domains"},
          "encoding": {
            "x": {"field": "t", "type": "quantitative", "scale": {"type": "linear", "domain": [-3.85, 18.84], "range": [567.3, 835], "nice": false, "zero": false},
              "axis": {"orient": "bottom", "offset": -491.7, "values": [0, 5, 10, 15], "labelExpr": "'' + datum.value", "tickSize": 19, "tickColor": "#555", "tickWidth": 1.5, "labelFontSize": 30, "labelPadding": 37.3, "labelBaseline": "middle", "title": "Δt (ns)", "titleFontSize": 31, "titleX": 706, "titleY": 101.3, "titleBaseline": "middle"}},
            "y": {"field": "w", "type": "quantitative", "scale": {"type": "log", "domain": [0.000000676, 0.412], "range": [712.3, 261], "nice": false},
              "axis": {"orient": "left", "offset": -567.3, "values": [0.1, 0.01, 0.001, 0.0001, 0.00001, 0.000001], "labelExpr": "datum.value == 0.01 ? '1e-02' : datum.value == 0.0001 ? '1e-04' : datum.value == 0.000001 ? '1e-06' : ''", "tickSize": 18, "tickColor": "#555", "tickWidth": 1.5, "labelFontSize": 30, "labelAngle": 270, "labelAlign": "center", "labelBaseline": "middle", "labelPadding": 35.8, "title": null}}}},
        {"data": {"values": [{}]}, "mark": {"type": "text", "text": "log scale", "font": "Liberation Serif", "fontSize": 30, "align": "right", "baseline": "alphabetic", "color": "#000"},
          "encoding": {
            "x": {"datum": 17.71, "scale": {"type": "linear", "domain": [-3.85, 18.84], "range": [567.3, 835], "nice": false, "zero": false},
              "axis": {"orient": "bottom", "offset": -491.7, "values": [0, 5, 10, 15], "labelExpr": "'' + datum.value", "tickSize": 19, "tickColor": "#555", "tickWidth": 1.5, "labelFontSize": 30, "labelPadding": 37.3, "labelBaseline": "middle", "title": "Δt (ns)", "titleFontSize": 31, "titleX": 706, "titleY": 101.3, "titleBaseline": "middle"}},
            "y": {"datum": 0.149, "scale": {"type": "log", "domain": [0.000000676, 0.412], "range": [712.3, 261], "nice": false},
              "axis": {"orient": "left", "offset": -567.3, "values": [0.1, 0.01, 0.001, 0.0001, 0.00001, 0.000001], "labelExpr": "datum.value == 0.01 ? '1e-02' : datum.value == 0.0001 ? '1e-04' : datum.value == 0.000001 ? '1e-06' : ''", "tickSize": 18, "tickColor": "#555", "tickWidth": 1.5, "labelFontSize": 30, "labelAngle": 270, "labelAlign": "center", "labelBaseline": "middle", "labelPadding": 35.8, "title": null}}}}
      ]
    }
  ]
}
